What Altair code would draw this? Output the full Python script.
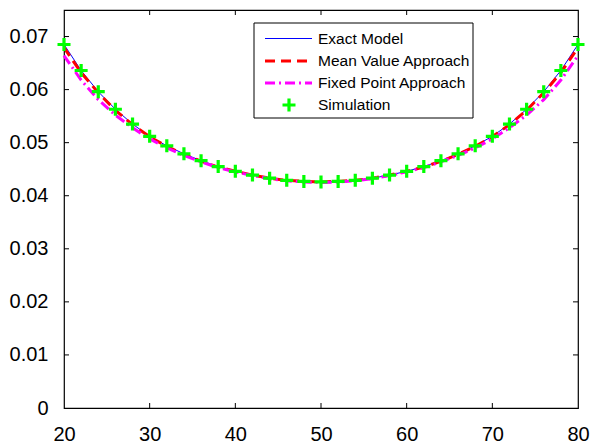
import altair as alt
import pandas as pd

# ---- data ----
x_vals = [20, 22, 24, 26, 28, 30, 32, 34, 36, 38, 40, 42, 44, 46, 48, 50,
          52, 54, 56, 58, 60, 62, 64, 66, 68, 70, 72, 74, 76, 78, 80]

exact = [0.0685, 0.0636, 0.0596, 0.0563, 0.0535, 0.0512, 0.0494, 0.0479,
         0.0466, 0.0455, 0.0446, 0.0439, 0.0433, 0.0429, 0.0427, 0.0426,
         0.0427, 0.0429, 0.0433, 0.0439, 0.0446, 0.0455, 0.0466, 0.0479,
         0.0494, 0.0512, 0.0535, 0.0563, 0.0596, 0.0636, 0.0685]

mean_value = [0.0679, 0.0632, 0.0594, 0.0561, 0.0534, 0.0511, 0.0493, 0.0478,
              0.0465, 0.0454, 0.0446, 0.0439, 0.0433, 0.0429, 0.0427, 0.0426,
              0.0427, 0.0429, 0.0433, 0.0439, 0.0446, 0.0454, 0.0465, 0.0478,
              0.0493, 0.0511, 0.0534, 0.0561, 0.0594, 0.0632, 0.0679]

fixed_point = [0.0664, 0.0618, 0.0581, 0.0552, 0.0528, 0.0507, 0.0490, 0.0476,
               0.0464, 0.0453, 0.0445, 0.0438, 0.0432, 0.0428, 0.0426, 0.0425,
               0.0426, 0.0428, 0.0432, 0.0438, 0.0445, 0.0453, 0.0464, 0.0476,
               0.0490, 0.0507, 0.0528, 0.0552, 0.0581, 0.0618, 0.0664]

simulation = [0.0685, 0.0636, 0.0596, 0.0563, 0.0535, 0.0512, 0.0494, 0.0479,
              0.0466, 0.0455, 0.0446, 0.0439, 0.0433, 0.0429, 0.0427, 0.0426,
              0.0427, 0.0429, 0.0433, 0.0439, 0.0446, 0.0455, 0.0466, 0.0479,
              0.0494, 0.0512, 0.0535, 0.0563, 0.0596, 0.0636, 0.0685]

x_ticks = [20, 30, 40, 50, 60, 70, 80]
y_ticks = [0, 0.01, 0.02, 0.03, 0.04, 0.05, 0.06, 0.07]

legend_labels = ["Exact Model", "Mean Value Approach", "Fixed Point Approach", "Simulation"]

FONT = "Liberation Sans"
W, H = 514, 398
PLUS = "M-1,0L1,0M0,-1L0,1"

df = pd.DataFrame({"x": x_vals, "exact": exact, "mean": mean_value,
                   "fixed": fixed_point, "sim": simulation})

xs = alt.Scale(domain=[20, 80], nice=False, zero=False)
ys = alt.Scale(domain=[0, 0.075], nice=False)

xax = alt.Axis(values=x_ticks, ticks=False, domain=False, grid=False,
               labelFontSize=20, labelFont=FONT, labelColor="black",
               labelFlush=False, labelOverlap=False,
               labelPadding=16, title=None)
yax = alt.Axis(values=y_ticks, ticks=False, domain=False, grid=False, format="~g",
               labelFontSize=20, labelFont=FONT, labelColor="black",
               labelFlush=False, labelOverlap=False,
               labelPadding=16, title=None)

base = alt.Chart(df)

exact_line = base.mark_line(color="#0000ff", strokeWidth=1).encode(
    x=alt.X("x:Q", scale=xs, axis=xax),
    y=alt.Y("exact:Q", scale=ys, axis=yax),
)
mean_line = base.mark_line(color="#ff0000", strokeWidth=3, strokeDash=[10, 6]).encode(
    x=alt.X("x:Q", scale=xs), y=alt.Y("mean:Q", scale=ys))
fixed_line = base.mark_line(color="#ff00ff", strokeWidth=3, strokeDash=[10, 4, 2, 4]).encode(
    x=alt.X("x:Q", scale=xs), y=alt.Y("fixed:Q", scale=ys))
sim_pts = base.mark_point(shape=PLUS, size=169, strokeWidth=3.2, color="#00ff00",
                          filled=False, opacity=1).encode(
    x=alt.X("x:Q", scale=xs), y=alt.Y("sim:Q", scale=ys))

# inward ticks on all four sides
xt = pd.DataFrame({"v": x_ticks[1:-1]})
yt = pd.DataFrame({"v": y_ticks[1:]})
tick_b = alt.Chart(xt).mark_rule(color="black", strokeWidth=1).encode(
    x=alt.X("v:Q", scale=xs), y=alt.value(H), y2=alt.value(H - 5))
tick_t = alt.Chart(xt).mark_rule(color="black", strokeWidth=1).encode(
    x=alt.X("v:Q", scale=xs), y=alt.value(0), y2=alt.value(5))
tick_l = alt.Chart(yt).mark_rule(color="black", strokeWidth=1).encode(
    y=alt.Y("v:Q", scale=ys), x=alt.value(0), x2=alt.value(5))
tick_r = alt.Chart(yt).mark_rule(color="black", strokeWidth=1).encode(
    y=alt.Y("v:Q", scale=ys), x=alt.value(W), x2=alt.value(W - 5))

# legend (manual, MATLAB style)
one = pd.DataFrame({"a": [0]})
lg = alt.Chart(one)
lx0, lx1, ly0, ly1 = 190, 409, 13, 108
rows = [28.5, 51, 73, 95]
box = lg.mark_rect(fill="white", stroke="black", strokeWidth=1).encode(
    x=alt.value(lx0), x2=alt.value(lx1), y=alt.value(ly0), y2=alt.value(ly1))
l1 = lg.mark_rule(color="#0000ff", strokeWidth=1).encode(
    x=alt.value(201), x2=alt.value(248), y=alt.value(rows[0]))
l2 = lg.mark_rule(color="#ff0000", strokeWidth=3, strokeDash=[10, 6]).encode(
    x=alt.value(201), x2=alt.value(248), y=alt.value(rows[1]))
l3 = lg.mark_rule(color="#ff00ff", strokeWidth=3, strokeDash=[10, 4, 2, 4]).encode(
    x=alt.value(201), x2=alt.value(248), y=alt.value(rows[2]))
l4 = lg.mark_point(shape=PLUS, size=169, strokeWidth=3.2, color="#00ff00",
                   filled=False, opacity=1).encode(
    x=alt.value(225), y=alt.value(rows[3]))
texts = [lg.mark_text(align="left", baseline="middle", font=FONT, fontSize=15.5,
                      color="black").encode(x=alt.value(254), y=alt.value(r),
                                            text=alt.value(t))
         for r, t in zip(rows, legend_labels)]

chart = alt.layer(
    exact_line, mean_line, fixed_line, sim_pts,
    tick_b, tick_t, tick_l, tick_r,
    box, l1, l2, l3, l4, *texts
).properties(
    width=W, height=H,
    autosize=alt.AutoSizeParams(type="none"),
    padding={"left": 64, "top": 10, "right": 13, "bottom": 36},
    background="white",
).configure_view(stroke="black", strokeWidth=1.2)

chart.save("out.html", embed_options={"renderer": "svg", "actions": False})
